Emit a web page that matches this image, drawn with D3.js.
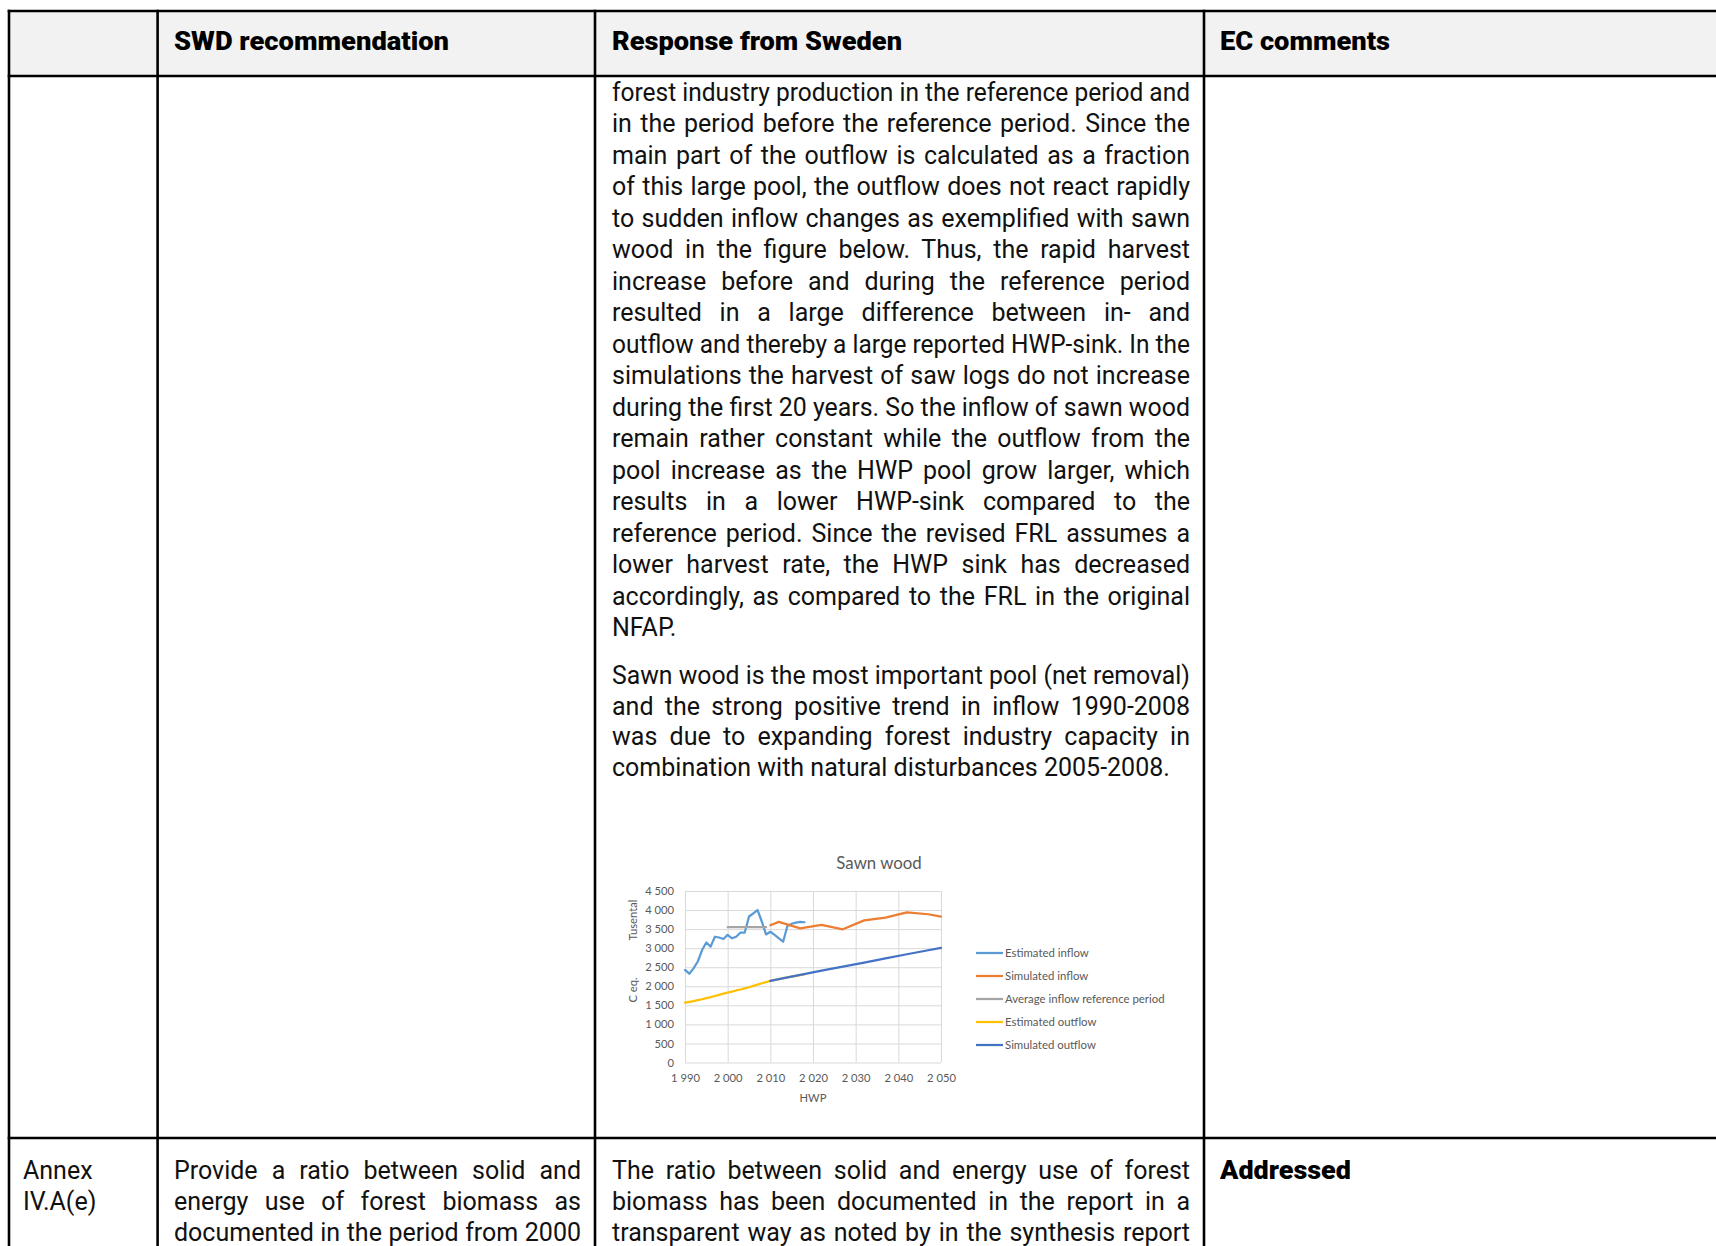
<!DOCTYPE html>
<html><head><meta charset="utf-8">
<script src="https://cdn.jsdelivr.net/npm/d3@7"></script>
<style>body{margin:0;background:#fff}svg{display:block}</style>
</head><body>
<svg id="c" width="1716" height="1246"></svg>
<script>
// ---------- data ----------
const headers = ["SWD recommendation", "Response from Sweden", "EC comments"];
const para1 = [
 "forest industry production in the reference period and",
 "in the period before the reference period. Since the",
 "main part of the outflow is calculated as a fraction",
 "of this large pool, the outflow does not react rapidly",
 "to sudden inflow changes as exemplified with sawn",
 "wood in the figure below. Thus, the rapid harvest",
 "increase before and during the reference period",
 "resulted in a large difference between in- and",
 "outflow and thereby a large reported HWP-sink. In the",
 "simulations the harvest of saw logs do not increase",
 "during the first 20 years. So the inflow of sawn wood",
 "remain rather constant while the outflow from the",
 "pool increase as the HWP pool grow larger, which",
 "results in a lower HWP-sink compared to the",
 "reference period. Since the revised FRL assumes a",
 "lower harvest rate, the HWP sink has decreased",
 "accordingly, as compared to the FRL in the original",
 "NFAP."
];
const para2 = [
 "Sawn wood is the most important pool (net removal)",
 "and the strong positive trend in inflow 1990-2008",
 "was due to expanding forest industry capacity in",
 "combination with natural disturbances 2005-2008."
];
const row2col1 = ["Annex", "IV.A(e)"];
const row2col2 = ["Provide a ratio between solid and", "energy use of forest biomass as", "documented in the period from 2000"];
const row2col3 = ["The ratio between solid and energy use of forest", "biomass has been documented in the report in a", "transparent way as noted by in the synthesis report"];
const row2col4 = "Addressed";

const chartTitle = "Sawn wood";
const xTitle = "HWP";
const yTitleA = "Tusental";
const yTitleB = "C eq.";
const xTicks = [1990, 2000, 2010, 2020, 2030, 2040, 2050];
const yTicks = [0, 500, 1000, 1500, 2000, 2500, 3000, 3500, 4000, 4500];

const estInflowYears = [1990,1991,1992,1993,1994,1995,1996,1997,1998,1999,2000,2001,2002,2003,2004,2005,2006,2007,2008,2009,2010,2011,2012,2013,2014,2015,2016,2017,2018];
const estInflow = [2430,2330,2470,2650,2950,3150,3040,3300,3280,3240,3350,3260,3300,3410,3410,3830,3910,4000,3700,3360,3430,3350,3260,3170,3580,3640,3670,3690,3680];
const simInflowYears = [2010,2012,2017,2022,2027,2032,2037,2042,2047,2050];
const simInflow = [3600,3690,3520,3610,3495,3730,3800,3940,3890,3830];
const avgInflowYears = [2000, 2009];
const avgInflow = [3550, 3550];
const estOutflowYears = estInflowYears;
const estOutflow = [1570,1590,1610,1635,1660,1690,1715,1745,1775,1805,1835,1860,1890,1915,1945,1975,2010,2045,2080,2110,2140,2165,2190,2210,2235,2255,2275,2295,2315];
const simOutflowYears = [2010,2012,2017,2022,2027,2032,2037,2042,2047,2050];
const simOutflow = [2140,2190,2300,2410,2515,2620,2730,2840,2945,3005];

const seriesNames = ["Estimated inflow","Simulated inflow","Average inflow reference period","Estimated outflow","Simulated outflow"];
const seriesColors = ["#5B9BD5","#ED7D31","#A5A5A5","#FFC000","#4472C4"];
const seriesData = [
  [estInflowYears, estInflow],
  [simInflowYears, simInflow],
  [avgInflowYears, avgInflow],
  [estOutflowYears, estOutflow],
  [simOutflowYears, simOutflow]
];

// ---------- drawing ----------
const svg = d3.select("#c");
const BODY_FONT = "Roboto, sans-serif";
const HEAD_FONT = "Roboto, 'DejaVu Sans', sans-serif";

// table geometry
const W = 1716, H = 1246;
const colX = [9, 157.6, 595, 1204];
const rowY = [11, 76, 1138];

svg.append("rect").attr("x", colX[0]).attr("y", rowY[0]).attr("width", W - colX[0]).attr("height", rowY[1] - rowY[0]).attr("fill", "#f2f2f2");

const grid = svg.append("g").attr("stroke", "#000").attr("stroke-width", 2.6);
rowY.forEach(y => grid.append("line").attr("x1", colX[0] - 1.3).attr("x2", W).attr("y1", y).attr("y2", y));
colX.forEach(x => grid.append("line").attr("x1", x).attr("x2", x).attr("y1", rowY[0] - 1.3).attr("y2", H));

// headers
const headX = [174, 612, 1220];
const headW = [275, 290, 170];
headers.forEach((h, i) => {
  svg.append("text").attr("x", headX[i]).attr("y", 50)
    .attr("font-family", HEAD_FONT).attr("font-weight", 900).attr("font-size", 25)
    .attr("fill", "#000").attr("textLength", headW[i]).attr("lengthAdjust", "spacingAndGlyphs").text(h);
});

function textLine(g, str, x, y, width, justify) {
  const t = g.append("text").attr("x", x).attr("y", y).text(str);
  const nat = t.node().getComputedTextLength();
  if (justify) {
    const spaces = (str.match(/ /g) || []).length;
    if (nat > width) t.attr("textLength", width).attr("lengthAdjust", "spacingAndGlyphs");
    else if (spaces > 0) t.style("word-spacing", ((width - nat) / spaces) + "px");
  } else if (nat > width) {
    t.attr("textLength", width).attr("lengthAdjust", "spacingAndGlyphs");
  }
  return t;
}

const body = svg.append("g").attr("font-family", BODY_FONT).attr("font-size", 25).attr("fill", "#111");
const bx = 612, bw = 578;
para1.forEach((s, i) => textLine(body, s, bx, 101 + i * 31.47, bw, i < para1.length - 1));
para2.forEach((s, i) => textLine(body, s, bx, 684 + i * 30.7, bw, i < para2.length - 1));

row2col1.forEach((s, i) => textLine(body, s, 23, 1179 + i * 31, 130, false));
row2col2.forEach((s, i) => textLine(body, s, 174, 1179 + i * 31, 407, true));
row2col3.forEach((s, i) => textLine(body, s, bx, 1179 + i * 31, bw, true));
svg.append("text").attr("x", 1220).attr("y", 1179)
  .attr("font-family", HEAD_FONT).attr("font-weight", 900).attr("font-size", 25)
  .attr("fill", "#000").attr("textLength", 131).attr("lengthAdjust", "spacingAndGlyphs").text(row2col4);

// ---------- chart ----------
const CF = "Lato, 'Open Sans', sans-serif";
const TXT = "#595959";
const px0 = 685, px1 = 941, py0 = 891, py1 = 1062.5;
const x = d3.scaleLinear().domain([1990, 2050]).range([px0, px1]);
const y = d3.scaleLinear().domain([0, 4500]).range([py1, py0]);
const loc = d3.formatLocale({decimal: ",", thousands: " ", grouping: [3], currency: ["", ""]});
const fmt = loc.format(",");

const chart = svg.append("g").attr("font-family", CF);

chart.append("text").attr("x", (px0 + px1) / 2 + 66).attr("y", 869)
  .attr("text-anchor", "middle").attr("font-size", 16.8).attr("fill", TXT).text(chartTitle);

const yAxis = chart.append("g").attr("transform", `translate(${px0},0)`)
  .call(d3.axisLeft(y).tickValues(yTicks).tickSize(-(px1 - px0)).tickPadding(11).tickFormat(fmt));
yAxis.select(".domain").remove();
yAxis.selectAll("line").attr("stroke", "#d9d9d9").attr("stroke-width", 1);
yAxis.selectAll("text").attr("font-size", 11.2).attr("fill", TXT).attr("font-family", CF);

const xAxis = chart.append("g").attr("transform", `translate(0,${py1})`)
  .call(d3.axisBottom(x).tickValues(xTicks).tickSize(-(py1 - py0)).tickPadding(12).tickFormat(fmt));
xAxis.select(".domain").remove();
xAxis.selectAll("line").attr("stroke", "#d9d9d9").attr("stroke-width", 1);
xAxis.selectAll("text").attr("font-size", 11.2).attr("fill", TXT).attr("font-family", CF);

chart.append("text").attr("x", (px0 + px1) / 2).attr("y", 1102)
  .attr("text-anchor", "middle").attr("font-size", 11.2).attr("fill", TXT).text(xTitle);
chart.append("text").attr("transform", "translate(637,920) rotate(-90)")
  .attr("text-anchor", "middle").attr("font-size", 11.2).attr("fill", TXT).text(yTitleA);
chart.append("text").attr("transform", "translate(637,990) rotate(-90)")
  .attr("text-anchor", "middle").attr("font-size", 11.2).attr("fill", TXT).text(yTitleB);

const line = d3.line().x(d => x(d[0])).y(d => y(d[1]));
seriesData.forEach((s, i) => {
  const pts = s[0].map((yr, j) => [yr, s[1][j]]);
  chart.append("path").datum(pts).attr("d", line).attr("fill", "none")
    .attr("stroke", seriesColors[i]).attr("stroke-width", 2.25)
    .attr("stroke-linejoin", "round").attr("stroke-linecap", "round");
});

const legend = chart.append("g");
seriesNames.forEach((n, i) => {
  const ly = 953 + i * 23;
  legend.append("line").attr("x1", 976).attr("x2", 1003).attr("y1", ly).attr("y2", ly)
    .attr("stroke", seriesColors[i]).attr("stroke-width", 2.25);
  legend.append("text").attr("x", 1005).attr("y", ly).attr("dy", "0.35em")
    .attr("font-size", 11.4).attr("fill", TXT).text(n);
});
</script>
</body></html>
